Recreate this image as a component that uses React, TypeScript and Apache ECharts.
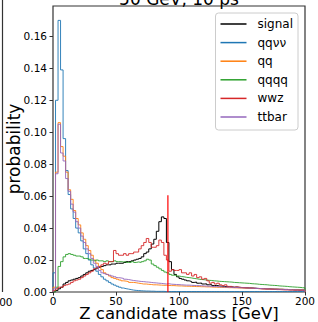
import React, { useEffect, useRef } from "react";
import * as echarts from "echarts";

const BIN_WIDTH = 2; // GeV
const seriesNames = ["signal", "qqνν", "qq", "qqqq", "wwz", "ttbar"];
const seriesColors = ["#000000", "#1f77b4", "#ff7f0e", "#2ca02c", "#d62728", "#9467bd"];

const signal = [
  0, 0.001, 0.002, 0.003, 0.005, 0.006, 0.007, 0.0075, 0.008, 0.0085,
  0.009, 0.010, 0.011, 0.012, 0.013, 0.0135, 0.014, 0.015, 0.0155, 0.016,
  0.0165, 0.017, 0.017, 0.0175, 0.0175, 0.018, 0.018, 0.018, 0.0185, 0.019,
  0.019, 0.0195, 0.020, 0.0205, 0.021, 0.022, 0.024, 0.025, 0.027, 0.030,
  0.033, 0.038, 0.044, 0.047, 0.046, 0.031, 0.019, 0.014, 0.011, 0.0095,
  0.0085, 0.008, 0.0075, 0.007, 0.0066, 0.006, 0.0062, 0.0055, 0.0056, 0.005,
  0.0051, 0.0045, 0.0046, 0.004, 0.0041, 0.0038, 0.0036, 0.0035, 0.0034, 0.0033,
  0.0032, 0.003, 0.0031, 0.0029, 0.0028, 0.0027, 0.0026, 0.0025, 0.0025, 0.0024,
  0.0023, 0.0022, 0.0021, 0.0021, 0.002, 0.002, 0.0019, 0.0018, 0.0018, 0.0017,
  0.0017, 0.0016, 0.0016, 0.0015, 0.0015, 0.0014, 0.0014, 0.0013, 0.0013, 0.0012,
];

const qqvv = [
  0.012, 0.12, 0.17, 0.139, 0.096, 0.076, 0.061, 0.052, 0.046, 0.040,
  0.037, 0.032, 0.027, 0.024, 0.020, 0.017, 0.015, 0.013, 0.011, 0.0095,
  0.008, 0.007, 0.006, 0.005, 0.0043, 0.0036, 0.003, 0.0025, 0.0021, 0.0018,
  0.0015, 0.0012, 0.001, 0.0009, 0.0008, 0.0007, 0.0006, 0.0006, 0.0005, 0.0005,
  0.0004, 0.0004, 0.0004, 0.0004, 0.0003, 0.0003, 0.0003, 0.0003, 0.0003, 0.0003,
  0.0003, 0.0003, 0.0003, 0.0003, 0.0003, 0.0003, 0.0003, 0.0003, 0.0003, 0.0003,
  0.0003, 0.0003, 0.0003, 0.0003, 0.0003, 0.0003, 0.0003, 0.0003, 0.0003, 0.0003,
  0.0003, 0.0003, 0.0003, 0.0003, 0.0003, 0.0003, 0.0003, 0.0003, 0.0003, 0.0003,
  0.0003, 0.0003, 0.0003, 0.0003, 0.0003, 0.0003, 0.0003, 0.0003, 0.0003, 0.0003,
  0.0003, 0.0003, 0.0003, 0.0003, 0.0003, 0.0003, 0.0003, 0.0003, 0.0003, 0.0003,
];

const qq = [
  0.003, 0.075, 0.106, 0.091, 0.085, 0.075, 0.064, 0.058, 0.051, 0.046,
  0.042, 0.037, 0.033, 0.029, 0.026, 0.023, 0.020, 0.018, 0.016, 0.014,
  0.012, 0.011, 0.010, 0.009, 0.0085, 0.008, 0.0075, 0.007, 0.0068, 0.0065,
  0.006, 0.006, 0.0058, 0.0055, 0.0053, 0.005, 0.005, 0.0048, 0.0047, 0.0045,
  0.0045, 0.0044, 0.0043, 0.0042, 0.0042, 0.0041, 0.004, 0.004, 0.0039, 0.0038,
  0.0038, 0.0037, 0.0036, 0.0036, 0.0035, 0.0035, 0.0034, 0.0034, 0.0033, 0.0033,
  0.0032, 0.0032, 0.0031, 0.003, 0.003, 0.0029, 0.0029, 0.0028, 0.0028, 0.0027,
  0.0027, 0.0026, 0.0026, 0.0025, 0.0025, 0.0024, 0.0024, 0.0023, 0.0023, 0.0022,
  0.0022, 0.0021, 0.0021, 0.002, 0.002, 0.0019, 0.0019, 0.0018, 0.0018, 0.0017,
  0.0017, 0.0016, 0.0016, 0.0015, 0.0015, 0.0014, 0.0014, 0.0013, 0.0013, 0.0012,
];

const qqqq = [
  0, 0.003, 0.016, 0.019, 0.022, 0.0235, 0.024, 0.0235, 0.023, 0.0225,
  0.0225, 0.022, 0.021, 0.021, 0.0205, 0.020, 0.0195, 0.020, 0.0195, 0.0195,
  0.019, 0.0195, 0.019, 0.019, 0.0195, 0.019, 0.019, 0.0188, 0.019, 0.0185,
  0.0185, 0.019, 0.0185, 0.0188, 0.0185, 0.019, 0.0195, 0.0205, 0.020, 0.0175,
  0.0165, 0.0155, 0.0145, 0.0135, 0.0125, 0.012, 0.011, 0.0105, 0.0105, 0.010,
  0.0097, 0.0095, 0.0092, 0.009, 0.0088, 0.0085, 0.0083, 0.008, 0.0078, 0.0077,
  0.0075, 0.0073, 0.0072, 0.007, 0.0069, 0.0067, 0.0066, 0.0065, 0.0064, 0.0063,
  0.0062, 0.006, 0.0059, 0.0058, 0.0057, 0.0056, 0.0055, 0.0054, 0.0052, 0.0051,
  0.005, 0.0048, 0.0047, 0.0046, 0.0045, 0.0043, 0.0042, 0.0041, 0.004, 0.0038,
  0.0037, 0.0036, 0.0035, 0.0033, 0.0032, 0.0031, 0.003, 0.0029, 0.0027, 0.0026,
];

const wwz = [
  0.001, 0.002, 0.003, 0.003, 0.004, 0.0045, 0.005, 0.006, 0.007, 0.0075,
  0.008, 0.009, 0.010, 0.011, 0.012, 0.013, 0.0145, 0.015, 0.016, 0.017,
  0.018, 0.0175, 0.019, 0.019, 0.026, 0.024, 0.023, 0.023, 0.024, 0.023,
  0.024, 0.024, 0.025, 0.025, 0.027, 0.029, 0.031, 0.0335, 0.031, 0.028,
  0.028, 0.029, 0.0325, 0.031, 0.023, 0.020, 0.013, 0.014, 0.0135, 0.0135,
  0.014, 0.012, 0.012, 0.011, 0.012, 0.010, 0.011, 0.009, 0.0095, 0.008,
  0.0085, 0.007, 0.0055, 0.006, 0.005, 0.0055, 0.0045, 0.004, 0.0045, 0.0035,
  0.0035, 0.003, 0.0032, 0.003, 0.0028, 0.0027, 0.0026, 0.0025, 0.0024, 0.0023,
  0.0022, 0.0021, 0.002, 0.0019, 0.0018, 0.0018, 0.0017, 0.0016, 0.0015, 0.0015,
  0.0014, 0.0013, 0.0013, 0.0012, 0.0012, 0.0011, 0.0011, 0.001, 0.001, 0.001,
];

const ttbar = [
  0.002, 0.074, 0.105, 0.087, 0.082, 0.071, 0.063, 0.055, 0.050, 0.044,
  0.040, 0.035, 0.031, 0.027, 0.024, 0.021, 0.018, 0.016, 0.0135, 0.012,
  0.0115, 0.011, 0.0105, 0.010, 0.0095, 0.009, 0.0088, 0.0085, 0.008, 0.0078,
  0.0075, 0.0072, 0.007, 0.0068, 0.0066, 0.0065, 0.0063, 0.0062, 0.006, 0.0058,
  0.0057, 0.0055, 0.0054, 0.0052, 0.005, 0.0052, 0.0049, 0.0048, 0.0047, 0.0046,
  0.0045, 0.0044, 0.0043, 0.0043, 0.0042, 0.0041, 0.004, 0.004, 0.0039, 0.0038,
  0.0037, 0.0036, 0.0035, 0.0034, 0.0034, 0.0033, 0.0032, 0.0031, 0.003, 0.003,
  0.0029, 0.0028, 0.0028, 0.0027, 0.0026, 0.0026, 0.0025, 0.0024, 0.0024, 0.0023,
  0.0022, 0.0022, 0.0021, 0.002, 0.002, 0.0019, 0.0019, 0.0018, 0.0017, 0.0017,
  0.0016, 0.0016, 0.0015, 0.0015, 0.0014, 0.0014, 0.0013, 0.0013, 0.0012, 0.0012,
];

const zMass = 91.19;
const zLineTop = 0.0605;

const yTicks = [0, 0.02, 0.04, 0.06, 0.08, 0.1, 0.12, 0.14, 0.16];
const xTicks = [0, 50, 100, 150, 200];

const allSeries = [signal, qqvv, qq, qqqq, wwz, ttbar];

function stepData(values: number[]) {
  const pts: number[][] = [[0, 0]];
  values.forEach((v, i) => pts.push([i * BIN_WIDTH, v]));
  const end = values.length * BIN_WIDTH;
  pts.push([end, values[values.length - 1]]);
  pts.push([end, 0]);
  return pts;
}

const FONT = "DejaVu Sans";

export default function App() {
  const ref = useRef<HTMLDivElement>(null);
  useEffect(() => {
    if (!ref.current) return;
    const chart = echarts.init(ref.current, undefined, { renderer: "svg" });
    const series: any[] = allSeries.map((vals, i) => ({
      name: seriesNames[i],
      type: "line",
      step: "end",
      data: stepData(vals),
      showSymbol: false,
      symbol: "none",
      color: seriesColors[i],
      lineStyle: { color: seriesColors[i], width: 1, opacity: i === 0 ? 1 : 0.9 },
      z: 2 + i * 0.01,
    }));
    series.push({
      name: "Z",
      type: "line",
      data: [
        [zMass, 0],
        [zMass, zLineTop],
      ],
      showSymbol: false,
      symbol: "none",
      color: "#ff0000",
      lineStyle: { color: "#ff0000", width: 1.2 },
      z: 3,
    });
    chart.setOption({
      animation: false,
      textStyle: { fontFamily: FONT },
      grid: {
        left: 53,
        right: 13,
        top: 6,
        bottom: 30,
        containLabel: false,
        outerBoundsMode: "none",
        show: true,
        borderColor: "#333",
        borderWidth: 1.2,
        backgroundColor: "transparent",
      },
      xAxis: {
        type: "value",
        min: 0,
        max: 200,
        interval: 50,
        name: "Z candidate mass [GeV]",
        nameLocation: "middle",
        nameGap: 13,
        nameMoveOverlap: false,
        nameTextStyle: { fontSize: 16.5, lineHeight: 16, color: "#000", fontFamily: FONT },
        axisLine: { show: false },
        axisTick: { show: true, inside: false, length: 3.5, lineStyle: { color: "#333" }, customValues: xTicks },
        axisLabel: { fontSize: 10.5, lineHeight: 10, color: "#000", margin: 4, fontFamily: FONT, customValues: xTicks },
        splitLine: { show: false },
      },
      yAxis: {
        type: "value",
        min: 0,
        max: 0.179,
        interval: 0.02,
        name: "probability",
        nameLocation: "middle",
        nameGap: 31,
        nameMoveOverlap: false,
        nameTextStyle: { fontSize: 17, color: "#000", fontFamily: FONT },
        axisLine: { show: false },
        axisTick: { show: true, inside: false, length: 3.5, lineStyle: { color: "#333" }, customValues: yTicks },
        axisLabel: {
          fontSize: 10.5,
          color: "#000",
          margin: 6,
          fontFamily: FONT,
          customValues: yTicks,
          formatter: (v: number) => v.toFixed(2),
        },
        splitLine: { show: false },
      },
      legend: {
        data: seriesNames,
        orient: "vertical",
        right: 20,
        top: 13,
        icon: "rect",
        itemWidth: 26,
        itemHeight: 1.5,
        itemGap: 4.6,
        padding: [4, 5, 6, 5],
        backgroundColor: "rgba(255,255,255,0.85)",
        borderColor: "#cccccc",
        borderWidth: 1,
        borderRadius: 3,
        textStyle: { fontSize: 12, lineHeight: 14, color: "#000", fontFamily: FONT, padding: [0, 0, 0, 6] },
      },
      graphic: [
        {
          type: "text",
          x: 179,
          y: -1,
          style: {
            text: "50 GeV, 10 ps",
            font: `17px '${FONT}'`,
            fill: "#000",
            textAlign: "center",
            textVerticalAlign: "middle",
          },
        },
        {
          type: "line",
          shape: { x1: 2.5, y1: 0, x2: 2.5, y2: 292 },
          style: { stroke: "#333", lineWidth: 1.2 },
        },
        {
          type: "text",
          x: 2.5,
          y: 296,
          style: {
            text: "200",
            font: `10.5px '${FONT}'`,
            fill: "#000",
            textAlign: "center",
            textVerticalAlign: "top",
          },
        },
      ],
      series,
    });
    return () => chart.dispose();
  }, []);
  return (
    <div
      ref={ref}
      style={{ position: "fixed", left: 0, top: 0, width: 318, height: 322, background: "#fff" }}
    />
  );
}
